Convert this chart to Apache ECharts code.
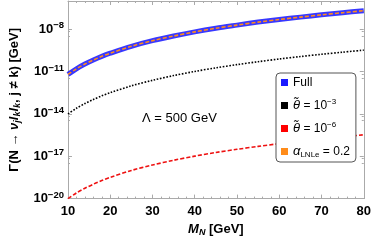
<!DOCTYPE html>
<html><head><meta charset="utf-8">
<script src="https://cdn.jsdelivr.net/npm/echarts@6/dist/echarts.min.js"></script>
<style>html,body{margin:0;padding:0;background:#fff}#c{width:374px;height:242px}</style>
</head><body><div id="c"></div>
<script>
var masses = [10,12,14,16,18,20,25,30,35,40,45,50,55,60,65,70,75,80];
var fullVals = [6.3e-12,1.58e-11,3.4e-11,6.6e-11,1.2e-10,2.0e-10,6.2e-10,1.55e-9,3.3e-9,6.5e-9,1.17e-8,1.95e-8,3.2e-8,4.9e-8,7.2e-8,1.05e-7,1.48e-7,2.05e-7];
var theta3Vals = [1.0e-14,2.5e-14,5.4e-14,1.05e-13,1.9e-13,3.2e-13,9.8e-13,2.4e-12,5.2e-12,1.02e-11,1.85e-11,3.1e-11,5.0e-11,7.8e-11,1.16e-10,1.68e-10,2.37e-10,3.3e-10];
var theta6Vals = [1.0e-20,2.5e-20,5.4e-20,1.05e-19,1.9e-19,3.2e-19,9.8e-19,2.4e-18,5.2e-18,1.02e-17,1.85e-17,3.1e-17,5.0e-17,7.8e-17,1.16e-16,1.68e-16,2.37e-16,3.3e-16];
var alphaVals = [6.3e-12,1.58e-11,3.4e-11,6.6e-11,1.2e-10,2.0e-10,6.2e-10,1.55e-9,3.3e-9,6.5e-9,1.17e-8,1.95e-8,3.2e-8,4.9e-8,7.2e-8,1.05e-7,1.48e-7,2.05e-7];
var xTicks = [10,20,30,40,50,60,70,80];
var yTickExps = [-20,-17,-14,-11,-8];

function pairs(v){ return masses.map(function(m,i){ return [m, v[i]]; }); }
var FF = '"Liberation Sans", Arial, sans-serif';
var frameColor = '#aaaaaa';

var chart = echarts.init(document.getElementById('c'));
var axisCommonX = {
  type:'value', min:10, max:80, interval:10,
  axisLine:{show:true, lineStyle:{color:frameColor}},
  axisTick:{show:true, inside:true, length:4, lineStyle:{color:frameColor}},
  minorTick:{show:true, splitNumber:5, length:2, lineStyle:{color:frameColor}},
  splitLine:{show:false}
};
var axisCommonY = {
  type:'log', logBase:10, min:1e-20, max:1e-6, interval:3,
  axisLine:{show:true, lineStyle:{color:frameColor}},
  axisTick:{show:true, inside:true, length:4, lineStyle:{color:frameColor}},
  minorTick:{show:true, splitNumber:3, length:2, lineStyle:{color:frameColor}},
  splitLine:{show:false}
};
var option = {
  animation:false,
  backgroundColor:'#fff',
  grid:{left:55, right:8, top:1, bottom:40},
  xAxis:[
    Object.assign({}, axisCommonX, {
      position:'bottom',
      axisLabel:{color:'#000', fontFamily:FF, fontWeight:'bold', fontSize:13, margin:6,
        formatter:function(v){ return xTicks.indexOf(v)>=0 ? String(v) : ''; }},
      name:'{i|M}{is|N}{b| [GeV]}', nameLocation:'middle', nameGap:22,
      nameTextStyle:{color:'#000', fontFamily:FF, rich:{
        i:{fontSize:13, fontStyle:'italic', fontWeight:'bold', fontFamily:FF, lineHeight:16, verticalAlign:'middle'},
        is:{fontSize:9, fontStyle:'italic', fontWeight:'bold', fontFamily:FF, lineHeight:9, verticalAlign:'bottom'},
        b:{fontSize:13, fontWeight:'bold', fontFamily:FF, lineHeight:16}
      }}
    }),
    Object.assign({}, axisCommonX, {position:'top', axisLabel:{show:false}})
  ],
  yAxis:[
    Object.assign({}, axisCommonY, {
      position:'left',
      axisLabel:{color:'#000', fontFamily:FF, margin:4, showMaxLabel:false,
        formatter:function(v){
          var e = Math.round(Math.log10(v));
          if (yTickExps.indexOf(e) < 0) return '';
          return '{b|10}{s|\u2212' + Math.abs(e) + '}';
        },
        rich:{
          b:{fontSize:13, fontWeight:'bold', fontFamily:FF, color:'#000', lineHeight:17},
          s:{fontSize:9.5, fontWeight:'bold', fontFamily:FF, color:'#000', lineHeight:10, verticalAlign:'top'}
        }},
      name:'\u0393(N \u2192 {i|\u03bd}{sub|j}{i|l}{sub|k}{i|l}{sub|k}, j \u2260 k) [GeV]',
      nameLocation:'middle', nameRotate:90, nameGap:38,
      nameTextStyle:{color:'#000', fontFamily:FF, fontWeight:'bold', fontSize:13, rich:{
        i:{fontSize:13, fontStyle:'italic', fontWeight:'bold', fontFamily:FF, lineHeight:16},
        sub:{fontSize:9, fontStyle:'italic', fontWeight:'bold', fontFamily:FF, lineHeight:9, verticalAlign:'bottom'}
      }}
    }),
    Object.assign({}, axisCommonY, {position:'right', axisLabel:{show:false}})
  ],
  legend:{
    left:276, top:73, orient:'vertical',
    padding:[2,6,3,5], itemGap:8,
    icon:'rect', itemWidth:7, itemHeight:7,
    backgroundColor:'#fff', borderColor:'#555', borderWidth:1, borderRadius:4,
    data:['Full','theta3','theta6','alpha'],
    formatter:function(n){
      if (n==='Full') return 'Full';
      if (n==='theta3') return '{i|\u03b8\u0303} = 10{s|\u22123}';
      if (n==='theta6') return '{i|\u03b8\u0303} = 10{s|\u22126}';
      return '{i|\u03b1}{sub|LNLe} = 0.2';
    },
    textStyle:{color:'#000', fontFamily:FF, fontSize:12, lineHeight:15, rich:{
      i:{fontSize:13, fontStyle:'italic', fontFamily:FF, lineHeight:15},
      s:{fontSize:8, fontFamily:FF, lineHeight:8, verticalAlign:'top'},
      sub:{fontSize:8, fontFamily:FF, lineHeight:8, verticalAlign:'bottom'}
    }}
  },
  graphic:[{
    type:'text', left:142, top:112,
    style:{text:'\u039b = 500 GeV', fontFamily:FF, fontSize:13, fill:'#000'}
  }],
  series:[
    {name:'Full', type:'line', data:pairs(fullVals), smooth:0.3, symbol:'none',
      color:'#1a1aff', lineStyle:{color:'#2222ff', width:5, opacity:0.9}, itemStyle:{color:'#1a1aff'}, z:2},
    {name:'theta3', type:'line', data:pairs(theta3Vals), smooth:0.3, symbol:'none',
      color:'#000', lineStyle:{color:'#000', width:1.6, type:[1.6,1.6]}, itemStyle:{color:'#000'}, z:3},
    {name:'theta6', type:'line', data:pairs(theta6Vals), smooth:0.3, symbol:'none',
      color:'#ff0000', lineStyle:{color:'#ee1111', width:1.6, type:[4,2]}, itemStyle:{color:'#ff0000'}, z:3},
    {name:'alpha', type:'line', data:pairs(alphaVals), smooth:0.3, symbol:'none',
      color:'#ff8c1a', lineStyle:{color:'#ff8c1a', width:1.6, type:[4,2]}, itemStyle:{color:'#ff8c1a'}, z:4}
  ]
};
chart.setOption(option);
</script></body></html>
